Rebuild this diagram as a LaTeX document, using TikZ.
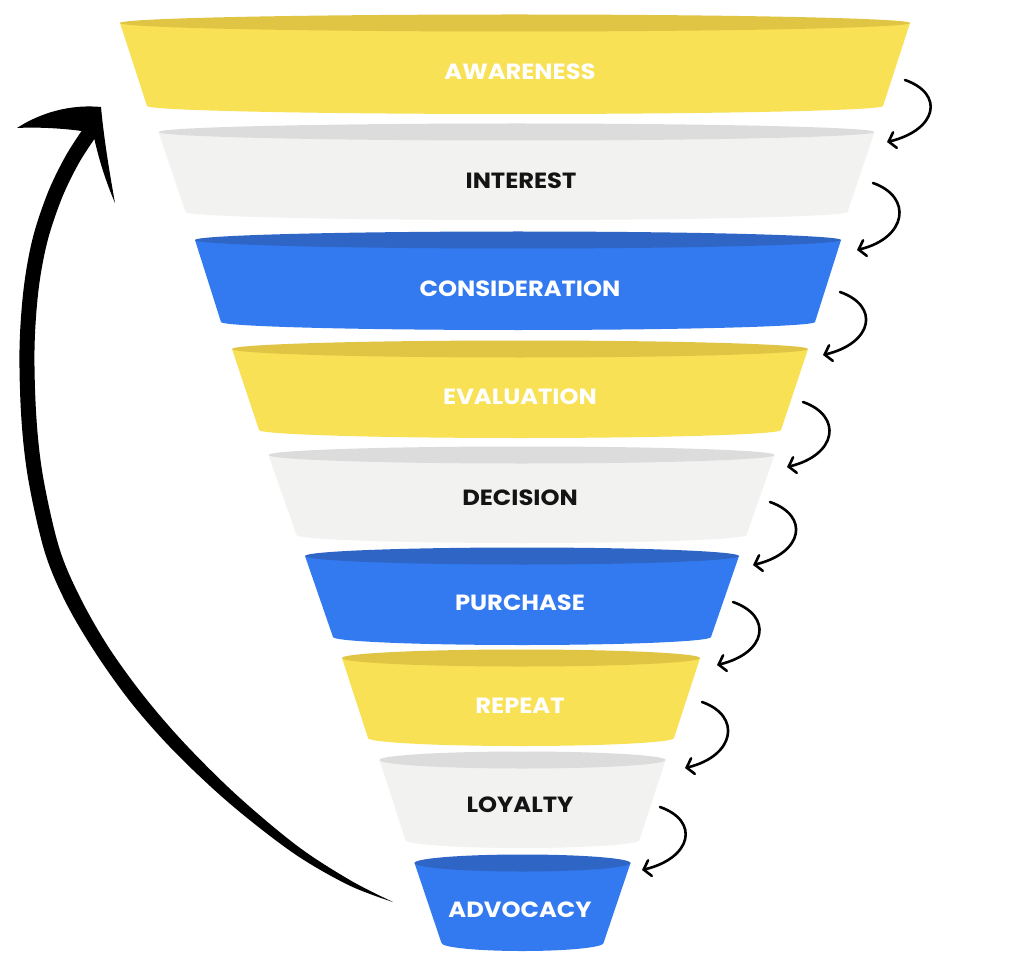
\documentclass[tikz,border=0pt]{standalone}
\usepackage{fontspec}
\setmainfont{Poppins}[FakeStretch=1.1]
\usetikzlibrary{arrows.meta}
\definecolor{yelbody}{HTML}{F8E155}
\definecolor{yeltop}{HTML}{E0C443}
\definecolor{grabody}{HTML}{F2F2F1}
\definecolor{gratop}{HTML}{DCDCDC}
\definecolor{blubody}{HTML}{337AF0}
\definecolor{blutop}{HTML}{2F66C6}
\definecolor{labdark}{HTML}{141414}
\tikzset{
  lab/.style={font=\bfseries\fontsize{22}{26}\selectfont, inner sep=0pt, anchor=center},
  wlab/.style={lab, text=white},
  blab/.style={lab, text=labdark},
  smallarrow/.style={line width=2.6pt, line cap=round, -{Straight Barb[length=6.5pt,width=16pt,line cap=round]}},
}
\newcommand{\funnelseg}[6]{%
  \fill[#6body] (#1-#3,#2) -- (#1-#5,#4)
    arc[start angle=180,end angle=360,x radius=#5pt,y radius=8pt]
    -- (#1+#3,#2) -- cycle;
  \fill[#6top] (#1,#2) ellipse[x radius=#3pt,y radius=8.5pt];
}
\begin{document}
\begin{tikzpicture}[x=1pt,y=-1pt]
\fill[white] (0,0) rectangle (1024,957);
\path[use as bounding box] (0,0) rectangle (1024,957);

% funnel segments: cx, top y, top half-width, bottom y, bottom half-width, colour
\funnelseg{515}{23}{395}{106}{368}{yel}
\funnelseg{516.5}{132}{358}{212}{331}{gra}
\funnelseg{518}{240}{323}{322}{297}{blu}
\funnelseg{520}{349}{288}{430}{261}{yel}
\funnelseg{521.5}{455}{253}{535}{225}{gra}
\funnelseg{522}{556}{217}{637}{189}{blu}
\funnelseg{521}{658}{179}{738}{153}{yel}
\funnelseg{522.5}{760}{143}{840}{117}{gra}
\funnelseg{522.5}{863}{108}{943}{81}{blu}

% labels
\node[wlab] (awareness) at (520,72) {AWARENESS};
\node[blab] (interest) at (521,181) {INTEREST};
\node[wlab] (consideration) at (520,289) {CONSIDERATION};
\node[wlab] (evaluation) at (520,397) {EVALUATION};
\node[blab] (decision) at (520,498) {DECISION};
\node[wlab] (purchase) at (520,603) {PURCHASE};
\node[wlab] (repeat) at (520,706) {REPEAT};
\node[blab] (loyalty) at (520,805) {LOYALTY};
\node[wlab] (advocacy) at (520,910) {ADVOCACY};

% small step arrows
\coordinate (s1) at (905,80);  \coordinate (e1) at (887,142);
\coordinate (s2) at (873,183); \coordinate (e2) at (857,250);
\coordinate (s3) at (840,292); \coordinate (e3) at (823,355);
\coordinate (s4) at (803,402); \coordinate (e4) at (787,467);
\coordinate (s5) at (770,502); \coordinate (e5) at (753,565);
\coordinate (s6) at (733,602); \coordinate (e6) at (717,665);
\coordinate (s7) at (702,702); \coordinate (e7) at (685,768);
\coordinate (s8) at (660,807); \coordinate (e8) at (642,870);
\foreach \i in {1,...,8}{
  \draw[smallarrow] (s\i) .. controls +(40,14) and +(50,-12) .. (e\i);
}

% big return arrow (tapered)
\coordinate (loopstart) at (393,902);
\coordinate (looptip) at (101,107);
\fill[black] plot[smooth,tension=0.55] coordinates {(393,902) (348.8,885.2) (293.7,853.3) (230.4,804.1) (175.3,752.5) (132.5,704.4) (96.1,653.8) (66.3,603.4) (44.8,552.2) (28.6,481.3) (21.5,420.5) (19.5,349.9) (23.6,289.1) (32.7,238.2) (48.0,192.2) (65.4,156.4) (81.6,131.0)}
  .. controls (60,128) and (35,127) .. (17,128)
  .. controls (40,113) and (70,104) .. (looptip)
  .. controls (104,140) and (110,175) .. (115,203)
  .. controls (106,182) and (99,160) .. (94.4,139.0)
  -- plot[smooth,tension=0.55] coordinates {(94.4,139.0) (78.6,163.6) (62.0,197.8) (47.3,241.8) (38.4,290.9) (34.5,350.1) (36.5,419.5) (43.4,478.7) (59.2,547.8) (79.7,596.6) (107.9,646.2) (143.5,695.6) (184.7,743.5) (237.6,795.9) (298.3,846.7) (351.2,880.8) (393,902)} -- cycle;
\end{tikzpicture}
\end{document}
